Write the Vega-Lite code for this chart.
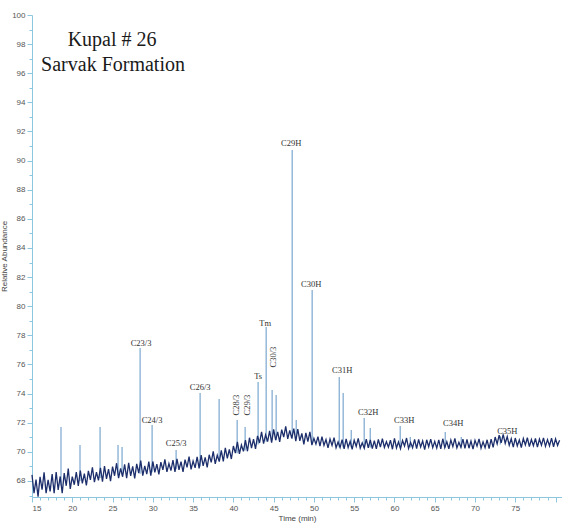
{
  "$schema": "https://vega.github.io/schema/vega-lite/v6.json",
  "width": 530,
  "height": 482,
  "autosize": "none",
  "padding": {"left": 32, "top": 15, "right": 0, "bottom": 34},
  "background": "white",
  "config": {
    "view": {"stroke": null},
    "axis": {
      "domainColor": "#8cc6df",
      "tickColor": "#8cc6df",
      "labelColor": "#555555",
      "labelFont": "Liberation Sans",
      "labelFontSize": 8,
      "titleFont": "Liberation Sans",
      "titleFontSize": 8,
      "titleFontWeight": "normal",
      "titleColor": "#444444",
      "grid": false
    }
  },
  "datasets": {
    "noise": [
      {"t":15.00,"v":68.42},{"t":15.25,"v":67.17},{"t":15.50,"v":68.09},{"t":15.75,"v":66.93},{"t":16.00,"v":68.29},{"t":16.25,"v":67.40},{"t":16.50,"v":68.59},{"t":16.75,"v":67.16},{"t":17.00,"v":68.07},{"t":17.25,"v":67.29},{"t":17.50,"v":68.48},{"t":17.75,"v":67.16},
      {"t":18.00,"v":68.62},{"t":18.25,"v":67.39},{"t":18.50,"v":68.31},{"t":18.75,"v":67.17},{"t":19.00,"v":68.54},{"t":19.25,"v":67.67},{"t":19.50,"v":68.86},{"t":19.75,"v":67.45},
      {"t":20.00,"v":68.30},{"t":20.25,"v":67.74},{"t":20.50,"v":68.61},{"t":20.75,"v":67.66},{"t":21.00,"v":68.72},{"t":21.25,"v":67.84},{"t":21.50,"v":68.51},{"t":21.75,"v":67.69},{"t":22.00,"v":68.69},{"t":22.25,"v":68.07},{"t":22.50,"v":68.94},{"t":22.75,"v":67.92},
      {"t":23.00,"v":68.60},{"t":23.25,"v":68.04},{"t":23.50,"v":68.91},{"t":23.75,"v":67.96},{"t":24.00,"v":69.02},{"t":24.25,"v":68.14},{"t":24.50,"v":68.81},{"t":24.75,"v":67.99},{"t":25.00,"v":68.99},{"t":25.25,"v":68.36},{"t":25.50,"v":69.22},{"t":25.75,"v":68.19},
      {"t":26.00,"v":68.86},{"t":26.25,"v":68.29},{"t":26.50,"v":69.15},{"t":26.75,"v":68.19},{"t":27.00,"v":69.24},{"t":27.25,"v":68.35},{"t":27.50,"v":69.01},{"t":27.75,"v":68.18},{"t":28.00,"v":69.17},{"t":28.25,"v":68.54},{"t":28.50,"v":69.40},{"t":28.75,"v":68.37},
      {"t":29.00,"v":69.04},{"t":29.25,"v":68.47},{"t":29.50,"v":69.33},{"t":29.75,"v":68.37},
      {"t":30.00,"v":69.34},{"t":30.25,"v":68.59},{"t":30.50,"v":69.15},{"t":30.75,"v":68.45},{"t":31.00,"v":69.29},{"t":31.25,"v":68.76},{"t":31.50,"v":69.49},{"t":31.75,"v":68.62},{"t":32.00,"v":69.19},{"t":32.25,"v":68.71},{"t":32.50,"v":69.44},{"t":32.75,"v":68.63},
      {"t":33.00,"v":69.52},{"t":33.25,"v":68.77},{"t":33.50,"v":69.33},{"t":33.75,"v":68.63},{"t":34.00,"v":69.47},{"t":34.25,"v":68.94},{"t":34.50,"v":69.67},{"t":34.75,"v":68.80},{"t":35.00,"v":69.37},{"t":35.25,"v":68.90},{"t":35.50,"v":69.65},{"t":35.75,"v":68.86},
      {"t":36.00,"v":69.77},{"t":36.25,"v":69.04},{"t":36.50,"v":69.62},{"t":36.75,"v":68.94},{"t":37.00,"v":69.80},{"t":37.25,"v":69.28},{"t":37.50,"v":70.03},{"t":37.75,"v":69.18},{"t":38.00,"v":69.77},{"t":38.25,"v":69.33},{"t":38.50,"v":70.10},{"t":38.75,"v":69.34},
      {"t":39.00,"v":70.27},{"t":39.25,"v":69.56},{"t":39.50,"v":70.17},{"t":39.75,"v":69.51},
      {"t":40.00,"v":70.40},{"t":40.25,"v":69.91},{"t":40.50,"v":70.68},{"t":40.75,"v":69.86},{"t":41.00,"v":70.47},{"t":41.25,"v":70.03},{"t":41.50,"v":70.80},{"t":41.75,"v":70.04},{"t":42.00,"v":70.97},{"t":42.25,"v":70.26},{"t":42.50,"v":70.87},{"t":42.75,"v":70.21},
      {"t":43.00,"v":71.10},{"t":43.25,"v":70.61},{"t":43.50,"v":71.38},{"t":43.75,"v":70.56},{"t":44.00,"v":71.17},{"t":44.25,"v":70.70},{"t":44.50,"v":71.44},{"t":44.75,"v":70.64},{"t":45.00,"v":71.54},{"t":45.25,"v":70.80},{"t":45.50,"v":71.37},{"t":45.75,"v":70.68},
      {"t":46.00,"v":71.53},{"t":46.25,"v":71.01},{"t":46.50,"v":71.75},{"t":46.75,"v":70.89},{"t":47.00,"v":71.47},{"t":47.25,"v":70.93},{"t":47.50,"v":71.60},{"t":47.75,"v":70.74},{"t":48.00,"v":71.57},{"t":48.25,"v":70.76},{"t":48.50,"v":71.27},{"t":48.75,"v":70.51},
      {"t":49.00,"v":71.30},{"t":49.25,"v":70.71},{"t":49.50,"v":71.38},{"t":49.75,"v":70.46},
      {"t":50.00,"v":70.93},{"t":50.25,"v":70.53},{"t":50.50,"v":71.05},{"t":50.75,"v":70.40},{"t":51.00,"v":71.05},{"t":51.25,"v":70.45},{"t":51.50,"v":70.85},{"t":51.75,"v":70.27},{"t":52.00,"v":70.88},{"t":52.25,"v":70.44},{"t":52.50,"v":70.97},{"t":52.75,"v":70.28},
      {"t":53.00,"v":70.68},{"t":53.25,"v":70.30},{"t":53.50,"v":70.84},{"t":53.75,"v":70.21},{"t":54.00,"v":70.89},{"t":54.25,"v":70.30},{"t":54.50,"v":70.72},{"t":54.75,"v":70.17},{"t":55.00,"v":70.80},{"t":55.25,"v":70.38},{"t":55.50,"v":70.93},{"t":55.75,"v":70.26},
      {"t":56.00,"v":70.62},{"t":56.25,"v":70.25},{"t":56.50,"v":70.88},{"t":56.75,"v":70.28},{"t":57.00,"v":70.82},{"t":57.25,"v":70.22},{"t":57.50,"v":70.77},{"t":57.75,"v":70.20},{"t":58.00,"v":70.86},{"t":58.25,"v":70.33},{"t":58.50,"v":70.90},{"t":58.75,"v":70.30},
      {"t":59.00,"v":70.70},{"t":59.25,"v":70.32},{"t":59.50,"v":70.80},{"t":59.75,"v":70.18},{"t":60.00,"v":70.92},{"t":60.25,"v":70.27},{"t":60.50,"v":70.69},{"t":60.75,"v":70.22},{"t":61.00,"v":70.78},{"t":61.25,"v":70.40},{"t":61.50,"v":70.95},{"t":61.75,"v":70.24},
      {"t":62.00,"v":70.65},{"t":62.25,"v":70.28},{"t":62.50,"v":70.86},{"t":62.75,"v":70.23},{"t":63.00,"v":70.85},{"t":63.25,"v":70.33},{"t":63.50,"v":70.75},{"t":63.75,"v":70.15},{"t":64.00,"v":70.83},{"t":64.25,"v":70.35},{"t":64.50,"v":70.88},{"t":64.75,"v":70.29},
      {"t":65.00,"v":70.72},{"t":65.25,"v":70.26},{"t":65.50,"v":70.82},{"t":65.75,"v":70.20},{"t":66.00,"v":70.90},{"t":66.25,"v":70.29},{"t":66.50,"v":70.70},{"t":66.75,"v":70.21},{"t":67.00,"v":70.81},{"t":67.25,"v":70.36},{"t":67.50,"v":70.92},{"t":67.75,"v":70.27},
      {"t":68.00,"v":70.66},{"t":68.25,"v":70.31},{"t":68.50,"v":70.87},{"t":68.75,"v":70.24},{"t":69.00,"v":70.86},{"t":69.25,"v":70.25},{"t":69.50,"v":70.74},{"t":69.75,"v":70.19},{"t":70.00,"v":70.79},{"t":70.25,"v":70.39},{"t":70.50,"v":70.89},{"t":70.75,"v":70.25},
      {"t":71.00,"v":70.69},{"t":71.25,"v":70.29},{"t":71.50,"v":70.83},{"t":71.75,"v":70.22},{"t":72.00,"v":70.88},{"t":72.25,"v":70.31},
      {"t":72.50,"v":71.02},{"t":72.75,"v":70.55},{"t":73.00,"v":71.15},{"t":73.25,"v":70.62},{"t":73.50,"v":71.20},{"t":73.75,"v":70.58},{"t":74.00,"v":71.05},
      {"t":74.25,"v":70.45},{"t":74.50,"v":70.90},{"t":74.75,"v":70.33},{"t":75.00,"v":70.95},{"t":75.25,"v":70.40},{"t":75.50,"v":70.82},{"t":75.75,"v":70.30},{"t":76.00,"v":70.92},{"t":76.25,"v":70.48},{"t":76.50,"v":70.97},{"t":76.75,"v":70.36},{"t":77.00,"v":70.85},
      {"t":77.25,"v":70.42},{"t":77.50,"v":70.93},{"t":77.75,"v":70.32},{"t":78.00,"v":70.88},{"t":78.25,"v":70.46},{"t":78.50,"v":70.96},{"t":78.75,"v":70.38},{"t":79.00,"v":70.84},{"t":79.25,"v":70.41},{"t":79.50,"v":70.94},{"t":79.75,"v":70.35},{"t":80.00,"v":70.89},{"t":80.25,"v":70.44},{"t":80.50,"v":70.80}
    ],
    "peaks": [
      {"t":18.60,"top":71.70,"base":67.7},
      {"t":20.96,"top":70.47,"base":68.0},
      {"t":23.45,"top":71.70,"base":68.2},
      {"t":25.68,"top":70.47,"base":68.4},
      {"t":26.18,"top":70.33,"base":68.4},
      {"t":28.42,"top":77.13,"base":68.5},
      {"t":29.91,"top":71.84,"base":68.6},
      {"t":32.89,"top":70.12,"base":68.8},
      {"t":35.87,"top":74.04,"base":69.0},
      {"t":38.23,"top":73.63,"base":69.4},
      {"t":40.47,"top":72.18,"base":69.9},
      {"t":41.46,"top":71.70,"base":70.1},
      {"t":43.07,"top":74.79,"base":70.5},
      {"t":44.07,"top":78.57,"base":70.7},
      {"t":44.81,"top":74.24,"base":70.8},
      {"t":45.31,"top":73.90,"base":70.8},
      {"t":47.30,"top":90.73,"base":70.9},
      {"t":47.80,"top":72.18,"base":70.9},
      {"t":49.78,"top":81.11,"base":70.6},
      {"t":53.14,"top":75.14,"base":70.3},
      {"t":53.63,"top":74.04,"base":70.3},
      {"t":54.63,"top":71.50,"base":70.3},
      {"t":56.24,"top":72.32,"base":70.3},
      {"t":56.99,"top":71.63,"base":70.3},
      {"t":60.71,"top":71.77,"base":70.3},
      {"t":61.96,"top":71.02,"base":70.3},
      {"t":66.30,"top":71.36,"base":70.3},
      {"t":68.29,"top":71.02,"base":70.3},
      {"t":73.14,"top":71.08,"base":70.5}
    ],
    "labels": [
      {"t":28.54,"v":77.47,"name":"C23/3"},
      {"t":29.91,"v":72.18,"name":"C24/3"},
      {"t":32.89,"v":70.60,"name":"C25/3"},
      {"t":35.87,"v":74.45,"name":"C26/3"},
      {"t":43.07,"v":75.21,"name":"Ts"},
      {"t":43.94,"v":78.85,"name":"Tm"},
      {"t":47.17,"v":91.21,"name":"C29H"},
      {"t":49.66,"v":81.52,"name":"C30H"},
      {"t":53.51,"v":75.62,"name":"C31H"},
      {"t":56.74,"v":72.73,"name":"C32H"},
      {"t":61.21,"v":72.18,"name":"C33H"},
      {"t":67.30,"v":71.98,"name":"C34H"},
      {"t":74.01,"v":71.43,"name":"C35H"}
    ],
    "vlabels": [
      {"t":40.34,"v":73.21,"name":"C28/3"},
      {"t":41.71,"v":73.21,"name":"C29/3"},
      {"t":44.94,"v":76.51,"name":"C30/3"}
    ],
    "titles": [
      {"t":24.94,"v":98.28,"name":"Kupal # 26"},
      {"t":25.06,"v":96.57,"name":"Sarvak Formation"}
    ]
  },
  "layer": [
    {
      "data": {"name": "peaks"},
      "mark": {"type": "rule", "color": "#6f9fcb", "strokeWidth": 1.1},
      "encoding": {
        "x": {"field": "t", "type": "quantitative", "scale": {"domain": [15, 80.8], "nice": false, "zero": false},
          "axis": {
            "title": "Time (min)",
            "format": "d",
            "values": [15,16,17,18,19,20,21,22,23,24,25,26,27,28,29,30,31,32,33,34,35,36,37,38,39,40,41,42,43,44,45,46,47,48,49,50,51,52,53,54,55,56,57,58,59,60,61,62,63,64,65,66,67,68,69,70,71,72,73,74,75,76,77,78,79,80],
            "tickCount": 500,
            "labelExpr": "datum.value % 5 === 0 && datum.value < 80 ? datum.label : ''",
            "labelOverlap": false,
            "tickSize": {"condition": {"test": "datum.value % 5 === 0", "value": 5}, "value": 3},
            "labelPadding": 2,
            "titlePadding": 2
          }},
        "y": {"field": "top", "type": "quantitative", "scale": {"domain": [66.9, 100], "nice": false, "zero": false},
          "axis": {
            "title": "Relative Abundance",
            "format": "d",
            "values": [67,67.5,68,68.5,69,69.5,70,70.5,71,71.5,72,72.5,73,73.5,74,74.5,75,75.5,76,76.5,77,77.5,78,78.5,79,79.5,80,80.5,81,81.5,82,82.5,83,83.5,84,84.5,85,85.5,86,86.5,87,87.5,88,88.5,89,89.5,90,90.5,91,91.5,92,92.5,93,93.5,94,94.5,95,95.5,96,96.5,97,97.5,98,98.5,99,99.5,100],
            "tickCount": 500,
            "labelExpr": "datum.value % 2 === 0 ? datum.label : ''",
            "labelOverlap": false,
            "tickSize": {"condition": {"test": "datum.value % 2 === 0", "value": 5}, "value": 3},
            "labelPadding": 2,
            "titlePadding": 3
          }},
        "y2": {"field": "base"}
      }
    },
    {
      "data": {"name": "noise"},
      "mark": {"type": "line", "color": "#1c2e6b", "strokeWidth": 1.3},
      "encoding": {
        "x": {"field": "t", "type": "quantitative"},
        "y": {"field": "v", "type": "quantitative"}
      }
    },
    {
      "data": {"name": "labels"},
      "mark": {"type": "text", "font": "Liberation Serif", "fontSize": 8.5, "fill": "#333333", "color": "#333333", "baseline": "middle", "align": "center"},
      "encoding": {
        "x": {"field": "t", "type": "quantitative"},
        "y": {"field": "v", "type": "quantitative"},
        "text": {"field": "name"}
      }
    },
    {
      "data": {"name": "vlabels"},
      "mark": {"type": "text", "font": "Liberation Serif", "fontSize": 8.5, "fill": "#333333", "color": "#333333", "baseline": "middle", "align": "center", "angle": 270},
      "encoding": {
        "x": {"field": "t", "type": "quantitative"},
        "y": {"field": "v", "type": "quantitative"},
        "text": {"field": "name"}
      }
    },
    {
      "data": {"name": "titles"},
      "mark": {"type": "text", "font": "Liberation Serif", "fontSize": 20, "fill": "#1a1a1a", "color": "#1a1a1a", "baseline": "middle", "align": "center"},
      "encoding": {
        "x": {"field": "t", "type": "quantitative"},
        "y": {"field": "v", "type": "quantitative"},
        "text": {"field": "name"}
      }
    }
  ]
}
